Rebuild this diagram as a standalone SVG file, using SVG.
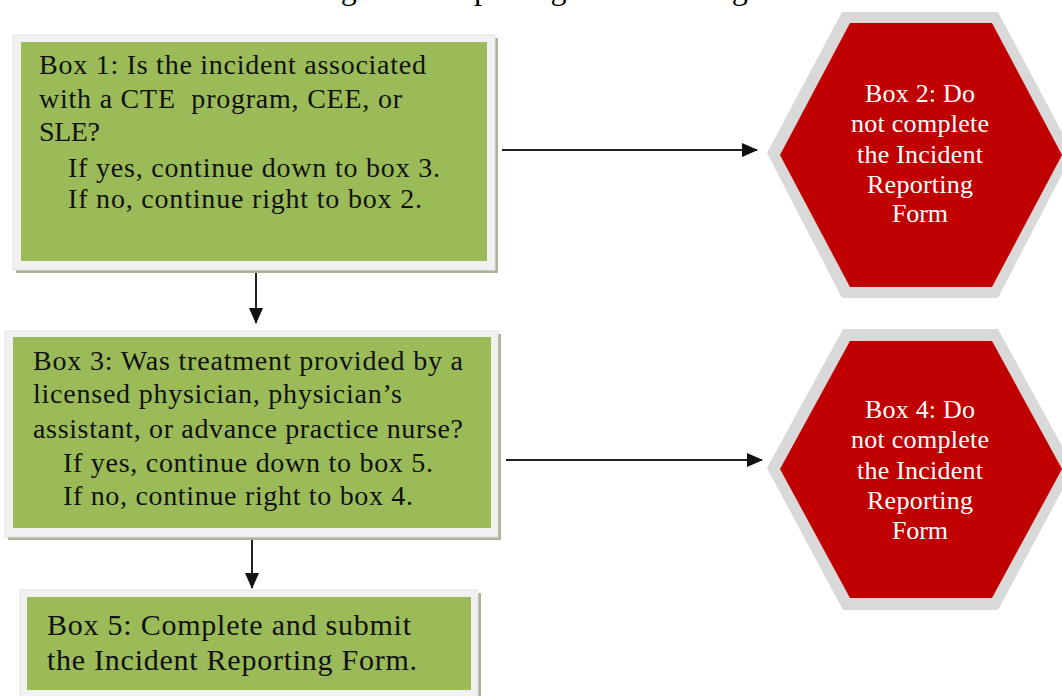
<svg xmlns="http://www.w3.org/2000/svg" width="1062" height="696" viewBox="0 0 1062 696">
  <defs>
    <style>
      .title { font-family: "Liberation Serif", "Times New Roman", serif; font-size: 32px; fill: #000; }
      .shadow { fill: #a9b397; }
      .frame { fill: #f1f1f1; stroke: #e2e2e2; stroke-width: 1; }
      .green { fill: #9bbb59; }
      .btxt { font-family: "Liberation Serif", "Times New Roman", serif; font-size: 28px; fill: #111; }
      .btxt5 { font-family: "Liberation Serif", "Times New Roman", serif; font-size: 30px; fill: #111; }
      .hexout { fill: #d9d9d9; }
      .hexin { fill: #c00000; }
      .htxt { font-family: "Liberation Serif", "Times New Roman", serif; font-size: 26px; fill: #ffffff; text-anchor: middle; }
      .conn { stroke: #222; stroke-width: 2; fill: none; }
    </style>
    <marker id="arrow" viewBox="0 0 16 14" refX="15" refY="7" markerWidth="16" markerHeight="14" markerUnits="userSpaceOnUse" orient="auto">
      <path d="M0,0 L16,7 L0,14 Z" fill="#111"/>
    </marker>
  </defs>
  <rect width="1062" height="696" fill="#ffffff"/>

  <text class="title" x="314" y="-1.5">Figure 1: Reporting Decision Logic</text>

  <g id="box1">
    <rect class="shadow" x="16" y="38" width="482" height="235"/>
    <rect class="frame" x="13" y="35" width="482" height="235"/>
    <rect class="green" x="21" y="42" width="466" height="219"/>
    <text class="btxt" x="39" y="74" textLength="387">Box 1: Is the incident associated</text>
    <text class="btxt" x="39" y="108" textLength="363" xml:space="preserve">with a CTE  program, CEE, or</text>
    <text class="btxt" x="39" y="141" textLength="61">SLE?</text>
    <text class="btxt" x="68" y="177" textLength="372">If yes, continue down to box 3.</text>
    <text class="btxt" x="68" y="208" textLength="354">If no, continue right to box 2.</text>
  </g>

  <g id="box2">
    <polygon class="hexout" points="767,153 842,12 998,12 1073,153 998,298 842,298"/>
    <polygon class="hexin" points="780,155 850,23 992,23 1062,155 992,287 850,287"/>
    <text class="htxt" x="920" y="102" textLength="110">Box 2: Do</text>
    <text class="htxt" x="920" y="132" textLength="138">not complete</text>
    <text class="htxt" x="920" y="163" textLength="126">the Incident</text>
    <text class="htxt" x="920" y="193" textLength="106">Reporting</text>
    <text class="htxt" x="920" y="222" textLength="56">Form</text>
  </g>

  <g id="box3">
    <rect class="shadow" x="8" y="334" width="493" height="206"/>
    <rect class="frame" x="5" y="331" width="493" height="206"/>
    <rect class="green" x="13" y="337" width="478" height="191"/>
    <text class="btxt" x="33" y="370" textLength="430">Box 3: Was treatment provided by a</text>
    <text class="btxt" x="33" y="403" textLength="369">licensed physician, physician’s</text>
    <text class="btxt" x="33" y="438" textLength="430">assistant, or advance practice nurse?</text>
    <text class="btxt" x="63" y="472" textLength="370">If yes, continue down to box 5.</text>
    <text class="btxt" x="63" y="505" textLength="350">If no, continue right to box 4.</text>
  </g>

  <g id="box4">
    <polygon class="hexout" points="767,468 843,329 998,329 1074,468 998,610 843,610"/>
    <polygon class="hexin" points="780,469 850,341 992,341 1062,469 992,598 850,598"/>
    <text class="htxt" x="920" y="418" textLength="110">Box 4: Do</text>
    <text class="htxt" x="920" y="448" textLength="138">not complete</text>
    <text class="htxt" x="920" y="479" textLength="126">the Incident</text>
    <text class="htxt" x="920" y="509" textLength="106">Reporting</text>
    <text class="htxt" x="920" y="539" textLength="56">Form</text>
  </g>

  <g id="box5">
    <rect class="shadow" x="23" y="593" width="458" height="110"/>
    <rect class="frame" x="20" y="590" width="458" height="110"/>
    <rect class="green" x="27" y="597" width="444" height="93"/>
    <text class="btxt5" x="47" y="635" textLength="364">Box 5: Complete and submit</text>
    <text class="btxt5" x="47" y="670" textLength="370">the Incident Reporting Form.</text>
  </g>

  <g id="connectors">
    <line class="conn" x1="502" y1="150" x2="757" y2="150" marker-end="url(#arrow)"/>
    <line class="conn" x1="506" y1="460" x2="762" y2="460" marker-end="url(#arrow)"/>
    <line class="conn" x1="256" y1="273" x2="256" y2="323" marker-end="url(#arrow)"/>
    <line class="conn" x1="252" y1="540" x2="252" y2="588" marker-end="url(#arrow)"/>
  </g>
</svg>
